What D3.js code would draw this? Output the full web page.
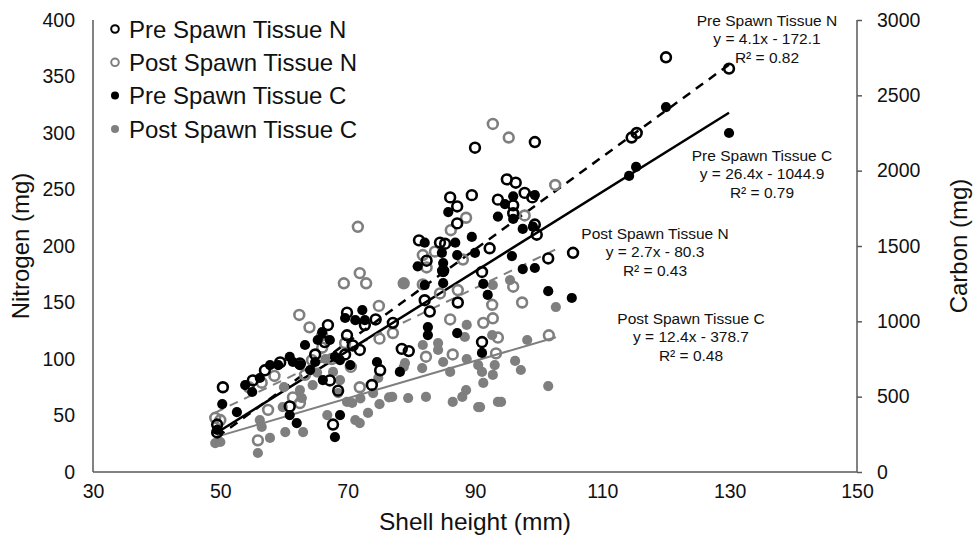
<!DOCTYPE html>
<html>
<head>
<meta charset="utf-8">
<script src="https://cdn.jsdelivr.net/npm/d3@7"></script>
<style>
body { margin: 0; background: #fff; }
svg { font-family: "Liberation Sans", Arial, sans-serif; }
</style>
</head>
<body>
<script>
var w = 979;
var h = 536;

// shell height (mm), value
var preN = [[129.9,357],[120.0,367],[115.4,300],[114.6,296],[105.4,194],[99.4,292],[90.0,287],[95.0,259],[96.4,256],[86.1,243],
    [89.5,245],[87.2,235],[93.6,241],[96.0,236],[97.8,247],[99.0,243],[87.2,220],[96.0,229],[99.4,219],[99.7,210],
    [81.2,205],[84.5,203],[85.3,202],[92.3,198],[82.4,187],[85.0,178],[101.5,189],[91.1,177],[82.1,152],[87.3,150],
    [82.9,142],[74.4,135],[77.1,132],[72.7,130],[69.9,121],[70.8,112],[78.5,109],[79.6,107],[75.1,90],[73.8,77],
    [91.1,115],[66.9,130],[66.4,115],[59.4,97],[57.0,90],[55.1,81],[50.4,75],[60.9,58],[49.5,42],[67.7,42],
    [68.5,72],[69.9,141],[49.5,35],[64.9,104],[62.5,96],[69.6,104],[71.9,108],[67.2,81]];

var postN = [[92.8,308],[95.3,296],[102.6,254],[88.6,225],[86.2,214],[97.8,227],[81.8,192],[83.7,195],[82.4,181],[71.6,217],
    [71.9,176],[69.4,167],[72.9,167],[78.8,167],[88.1,188],[81.8,166],[84.5,158],[87.3,161],[96.0,164],[92.7,148],
    [97.4,150],[92.8,136],[91.3,132],[93.6,119],[101.6,121],[93.3,105],[74.9,147],[86.1,135],[77.1,123],[69.6,114],
    [82.3,102],[86.5,104],[71.9,75],[62.4,139],[66.0,121],[66.0,110],[56.5,79],[62.5,61],[61.4,66],[57.5,55],
    [55.9,28],[49.2,48],[50.0,46],[63.3,86],[64.4,99],[64.0,128],[67.5,100],[70.5,93],[58.5,85],[54.5,75],[75.0,118]];

var preC = [[129.9,2250],[120.0,2422],[115.3,2025],[114.2,1965],[105.2,1155],[101.5,1200],[96.0,1830],[94.7,1778],[99.4,1838],[93.6,1695],
    [96.0,1680],[97.5,1613],[99.1,1628],[85.8,1725],[89.5,1560],[82.1,1522],[86.9,1522],[84.8,1455],[87.2,1440],[90.0,1455],
    [81.0,1365],[85.0,1387],[85.0,1327],[85.0,1253],[82.1,1241],[95.8,1433],[97.5,1347],[99.4,1354],[91.3,1248],[92.0,1175],
    [82.6,962],[82.6,909],[87.2,922],[74.6,730],[78.2,664],[68.8,743],[68.8,378],[91.1,790],[59.1,710],[61.4,730],
    [64.9,730],[64.1,677],[55.0,531],[50.3,451],[62.0,325],[60.9,378],[49.5,279],[68.0,232],[69.6,1022],[72.3,1075],
    [66.0,929],[67.2,876],[52.6,398],[63.3,843],[65.3,876],[60.9,764],[62.5,710],[68.0,764],[70.4,710],[66.1,610],
    [57.8,710],[56.2,624],[53.9,577],[71.2,1008],[72.7,1008]];

var postC = [[102.7,1095],[101.5,570],[98.2,876],[92.7,909],[96.3,737],[97.2,677],[93.1,710],[92.8,644],[91.3,591],[91.1,664],
    [93.6,465],[94.1,465],[90.8,431],[95.5,1274],[92.8,1241],[88.7,976],[88.4,896],[81.8,843],[84.2,856],[84.2,810],
    [79.0,723],[78.8,697],[81.7,690],[85.0,730],[88.7,750],[86.1,664],[90.5,710],[74.8,624],[74.0,524],[77.0,498],
    [79.5,491],[82.3,498],[86.5,465],[88.0,498],[88.6,544],[69.9,465],[70.7,458],[73.2,392],[71.2,345],[71.9,325],
    [90.5,431],[62.5,544],[62.8,491],[59.8,431],[56.2,345],[56.5,299],[57.8,226],[60.2,265],[63.0,265],[66.8,378],
    [49.2,192],[50.0,199],[55.9,126],[78.8,1254],[67.7,664],[68.8,610],[66.5,750],[64.5,577],[68.5,524],[72.0,488],
    [75.0,450],[76.5,495],[65.2,660],[60.0,563]];

var seriesNames = ["Pre Spawn Tissue N", "Post Spawn Tissue N", "Pre Spawn Tissue C", "Post Spawn Tissue C"];
var fitSlope = [4.1, 2.7, 26.4, 12.4];
var fitIntercept = [-172.1, -80.3, -1044.9, -378.7];
var fitR2 = ["0.82", "0.43", "0.79", "0.48"];

var xTicks = [30, 50, 70, 90, 110, 130, 150];
var nTicks = [0, 50, 100, 150, 200, 250, 300, 350, 400];
var cTicks = [0, 500, 1000, 1500, 2000, 2500, 3000];

var plotLeft = 93, plotRight = 857, plotTop = 20, plotBottom = 472;
var black = "#000", grey = "#7f7f7f", axisCol = "#595959";

var svg = d3.select("body").append("svg")
    .attr("width", w)
    .attr("height", h);

var xScale = d3.scaleLinear().domain([30, 150]).range([plotLeft, plotRight]);
var nScale = d3.scaleLinear().domain([0, 400]).range([plotBottom, plotTop]);
var cScale = d3.scaleLinear().domain([0, 3000]).range([plotBottom, plotTop]);

// axes
var xAxis = d3.axisBottom(xScale).tickValues(xTicks).tickSize(0).tickPadding(12);
var nAxis = d3.axisLeft(nScale).tickValues(nTicks).tickSize(0).tickPadding(18);
var cAxis = d3.axisRight(cScale).tickValues(cTicks).tickSize(5).tickPadding(15)
    .tickFormat(d3.format("d"));

var gx = svg.append("g").attr("transform", "translate(0," + plotBottom + ")").call(xAxis);
var gn = svg.append("g").attr("transform", "translate(" + plotLeft + ",0)").call(nAxis);
var gc = svg.append("g").attr("transform", "translate(" + plotRight + ",0)").call(cAxis);

[gx, gn, gc].forEach(function (g) {
    g.select(".domain").attr("stroke", axisCol).attr("stroke-width", 1.5);
    g.selectAll(".tick line").attr("stroke", axisCol).attr("stroke-width", 1.5);
    g.selectAll("text").attr("font-size", 19.5).attr("fill", "#111")
        .attr("font-family", "'Liberation Sans', Arial, sans-serif");
});
gx.select(".domain").attr("d", "M" + plotLeft + ",0H" + plotRight);
gn.select(".domain").attr("d", "M0," + plotTop + "V" + plotBottom);
gc.select(".domain").attr("d", "M0," + plotTop + "V" + plotBottom);

// trend lines
var fitSeries = [preN, postN, preC, postC];
var fitScales = [nScale, nScale, cScale, cScale];
var fitColor = [black, grey, black, grey];
var fitDash = ["9,7", "9,7", null, null];
var fitWidth = [2.5, 2, 2.5, 2];

fitSeries.forEach(function (data, i) {
    var ext = d3.extent(data, function (d) { return d[0]; });
    var pts = ext.map(function (x) { return [x, fitSlope[i] * x + fitIntercept[i]]; });
    var line = d3.line()
        .x(function (d) { return xScale(d[0]); })
        .y(function (d) { return fitScales[i](d[1]); });
    svg.append("path")
        .attr("d", line(pts))
        .attr("fill", "none")
        .attr("stroke", fitColor[i])
        .attr("stroke-width", fitWidth[i])
        .attr("stroke-dasharray", fitDash[i]);
});

// points
function drawPoints(data, scale, col, open) {
    svg.append("g").selectAll("circle")
        .data(data)
        .enter()
        .append("circle")
        .attr("cx", function (d) { return xScale(d[0]); })
        .attr("cy", function (d) { return scale(d[1]); })
        .attr("r", open ? 4.9 : 5.1)
        .attr("fill", open ? "none" : col)
        .attr("stroke", open ? col : "none")
        .attr("stroke-width", 2.6);
}
drawPoints(postC, cScale, grey, false);
drawPoints(postN, nScale, grey, true);
drawPoints(preC, cScale, black, false);
drawPoints(preN, nScale, black, true);

// legend
var legendKinds = [[black, true], [grey, true], [black, false], [grey, false]];
var legend = svg.append("g");
seriesNames.forEach(function (name, i) {
    var y = 29 + i * 33.3;
    legend.append("circle")
        .attr("cx", 115).attr("cy", y)
        .attr("r", legendKinds[i][1] ? 3.8 : 4)
        .attr("fill", legendKinds[i][1] ? "none" : legendKinds[i][0])
        .attr("stroke", legendKinds[i][1] ? legendKinds[i][0] : "none")
        .attr("stroke-width", 2);
    legend.append("text")
        .attr("x", 129).attr("y", y)
        .attr("dy", "0.36em")
        .attr("font-size", 24)
        .attr("fill", "#111")
        .text(name);
});

// trend line labels
var labelX = [767, 655, 762, 691];
var labelY = [20, 233, 155, 318];
seriesNames.forEach(function (name, i) {
    var b = fitIntercept[i] < 0 ? " - " + Math.abs(fitIntercept[i]) : " + " + fitIntercept[i];
    var lines = [name, "y = " + fitSlope[i] + "x" + b, "R\u00b2 = " + fitR2[i]];
    lines.forEach(function (t, j) {
        svg.append("text")
            .attr("x", labelX[i])
            .attr("y", labelY[i] + j * 18.5)
            .attr("dy", "0.36em")
            .attr("text-anchor", "middle")
            .attr("font-size", 15.5)
            .attr("fill", "#111")
            .text(t);
    });
});

// axis titles
svg.append("text")
    .attr("x", (plotLeft + plotRight) / 2)
    .attr("y", 521)
    .attr("dy", "0.36em")
    .attr("text-anchor", "middle")
    .attr("font-size", 24.5)
    .attr("fill", "#111")
    .text("Shell height (mm)");

svg.append("text")
    .attr("transform", "translate(20," + (plotTop + plotBottom) / 2 + ") rotate(-90)")
    .attr("dy", "0.36em")
    .attr("text-anchor", "middle")
    .attr("font-size", 24)
    .attr("fill", "#111")
    .text("Nitrogen (mg)");

svg.append("text")
    .attr("transform", "translate(958," + (plotTop + plotBottom) / 2 + ") rotate(-90)")
    .attr("dy", "0.36em")
    .attr("text-anchor", "middle")
    .attr("font-size", 24)
    .attr("fill", "#111")
    .text("Carbon (mg)");
</script>
</body>
</html>
